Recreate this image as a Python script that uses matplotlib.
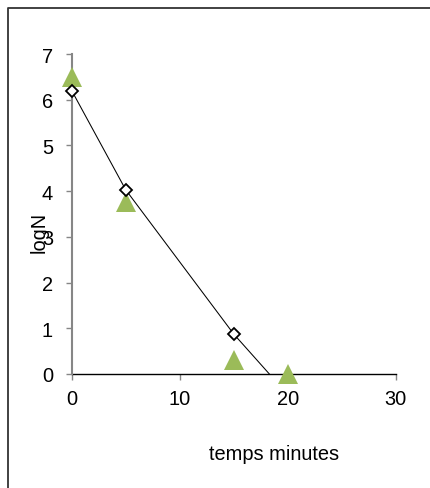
import matplotlib
matplotlib.use("Agg")
import matplotlib.pyplot as plt
from matplotlib.lines import Line2D

# survival curve: measured points joined by a line, plus second series
time_min = [0, 5, 15, 20]
log_n_measured = [6.2, 4.03, 0.875, -0.45]
time_tri = [0, 5, 15, 20]
log_n_tri = [6.5, 3.76, 0.3, 0.0]

x_ticks = [0, 10, 20, 30]
y_ticks = [0, 1, 2, 3, 4, 5, 6, 7]

plt.rcParams["font.family"] = ["Liberation Sans", "DejaVu Sans"]
FS = 14.4
GREY = "#868686"

fig = plt.figure(figsize=(4.3, 4.89), dpi=100)
ax = fig.add_axes([71.7 / 430, 1 - 375 / 489, (395.7 - 71.7) / 430, (375 - 55) / 489])

ax.set_xlim(0, 30)
ax.set_ylim(0, 7)

# triangles first so the diamonds sit on top
ax.plot(time_tri, log_n_tri, linestyle="none", marker="^", markersize=14.4,
        color="#9BBB59", markeredgewidth=0, clip_on=False, zorder=3)

# connecting line is clipped at the axis, markers are not
ax.plot(time_min, log_n_measured, color="black", linewidth=0.75, zorder=4)
y0, y1 = ax.get_ylim()
shown = [(t, v) for t, v in zip(time_min, log_n_measured) if y0 <= v <= y1]
ax.plot([p[0] for p in shown], [p[1] for p in shown], linestyle="none",
        marker="D", markersize=6.3, markerfacecolor="white",
        markeredgecolor="black", markeredgewidth=1.3, clip_on=False, zorder=5)

ax.set_xticks(x_ticks)
ax.set_yticks(y_ticks)

for side in ("top", "right"):
    ax.spines[side].set_visible(False)
ax.spines["left"].set_color(GREY)
ax.spines["left"].set_linewidth(1.5)
ax.spines["bottom"].set_color("black")
ax.spines["bottom"].set_linewidth(1.0)
ax.spines["bottom"].set_zorder(2)

ax.tick_params(axis="y", direction="out", length=4.5, width=1.0, color=GREY,
               pad=9, labelsize=FS)
ax.tick_params(axis="x", direction="out", length=4, width=1.0, color=GREY,
               pad=7, labelsize=FS)

# axis titles placed like the spreadsheet export
fig.text(39 / 430, 1 - 232 / 489, "logN", rotation=90, fontsize=FS,
         ha="center", va="center")
fig.text(274 / 430, 1 - 455 / 489, "temps minutes", fontsize=FS,
         ha="center", va="center")

# chart-area frame (only left and top edges fall inside the image)
frame = Line2D([7.5 / 430, 7.5 / 430, 1.1], [-0.1, 1 - 8.5 / 489, 1 - 8.5 / 489],
               transform=fig.transFigure, color="#333333", linewidth=1.3)
fig.add_artist(frame)

fig.savefig("out.png", dpi=100)
